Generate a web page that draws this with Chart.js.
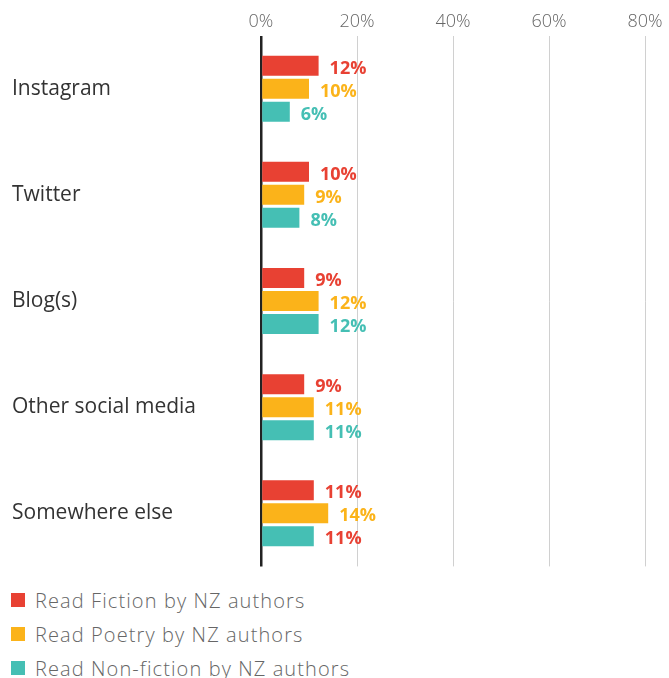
<!DOCTYPE html>
<html>
<head>
<meta charset="utf-8">
<script src="https://cdn.jsdelivr.net/npm/chart.js@4"></script>
<style>
  body { margin: 0; background: #fff; font-family: "Open Sans", sans-serif; }
  .wrap { position: relative; width: 669px; height: 582px; }
  #legend { padding-left: 11px; margin-top: 1px; }
  .item { display: flex; align-items: center; height: 34px; font-size: 20px; font-weight: 300; color: #666; letter-spacing: 1.1px; }
  .box { width: 14px; height: 14px; margin-right: 10px; }
</style>
</head>
<body>
<div class="wrap"><canvas id="myChart"></canvas></div>
<div id="legend"></div>
<script>
// DATA
var categories = ["Instagram", "Twitter", "Blog(s)", "Other social media", "Somewhere else"];
var seriesNames = ["Read Fiction by NZ authors", "Read Poetry by NZ authors", "Read Non-fiction by NZ authors"];
var fiction = [12, 10, 9, 9, 11];
var poetry = [10, 9, 12, 11, 14];
var nonFiction = [6, 8, 12, 11, 11];
var xTicks = [0, 20, 40, 60, 80];

var barColors = ["#e84133", "#fbb31a", "#45bfb4"];
// the last non-fiction label is red in the original
var labelColors = [
  ["#e84133", "#e84133", "#e84133", "#e84133", "#e84133"],
  ["#fbb31a", "#fbb31a", "#fbb31a", "#fbb31a", "#fbb31a"],
  ["#45bfb4", "#45bfb4", "#45bfb4", "#45bfb4", "#e84133"]
];

// draw value labels after the bars
var valueLabels = {
  id: "valueLabels",
  afterDatasetsDraw: function (chart) {
    var ctx = chart.ctx;
    ctx.save();
    ctx.font = "bold 18px 'Open Sans', sans-serif";
    ctx.textAlign = "left";
    ctx.textBaseline = "middle";
    chart.data.datasets.forEach(function (ds, i) {
      chart.getDatasetMeta(i).data.forEach(function (bar, j) {
        ctx.fillStyle = labelColors[i][j];
        ctx.fillText(ds.data[j] + "%", bar.x + 11, bar.y + 3);
      });
    });
    ctx.restore();
  }
};

var chart = new Chart("myChart", {
  type: "bar",
  data: {
    labels: categories,
    datasets: [
      { label: seriesNames[0], data: fiction, backgroundColor: barColors[0] },
      { label: seriesNames[1], data: poetry, backgroundColor: barColors[1] },
      { label: seriesNames[2], data: nonFiction, backgroundColor: barColors[2] }
    ]
  },
  options: {
    indexAxis: "y",
    responsive: true,
    maintainAspectRatio: false,
    animation: false,
    layout: { padding: { left: 12, right: 0, top: 8, bottom: 3 } },
    categoryPercentage: 0.65,
    barPercentage: 0.87,
    plugins: {
      legend: { display: false },
      tooltip: { enabled: false }
    },
    scales: {
      x: {
        position: "top",
        min: 0,
        max: 85,
        afterBuildTicks: function (scale) {
          scale.ticks = xTicks.map(function (v) { return { value: v }; });
        },
        ticks: {
          padding: 3,
          color: "#666",
          font: { family: "Open Sans", size: 18, weight: "300" },
          callback: function (v) { return v + "%"; }
        },
        grid: {
          drawTicks: false,
          color: function (c) { return c.tick && c.tick.value === 0 ? "#222" : "#d0d0d0"; },
          lineWidth: function (c) { return c.tick && c.tick.value === 0 ? 2.5 : 1; }
        },
        border: { display: false }
      },
      y: {
        afterFit: function (scale) { scale.width = 249; },
        ticks: {
          crossAlign: "far",
          color: "#333",
          font: { family: "Open Sans", size: 21 }
        },
        grid: { display: false },
        border: { display: false }
      }
    }
  },
  plugins: [valueLabels]
});

// legend, one per row
var legend = document.getElementById("legend");
chart.data.datasets.forEach(function (ds) {
  var item = document.createElement("div");
  item.className = "item";
  item.innerHTML = '<span class="box" style="background:' + ds.backgroundColor + '"></span>' + ds.label;
  legend.appendChild(item);
});
</script>
</body>
</html>
